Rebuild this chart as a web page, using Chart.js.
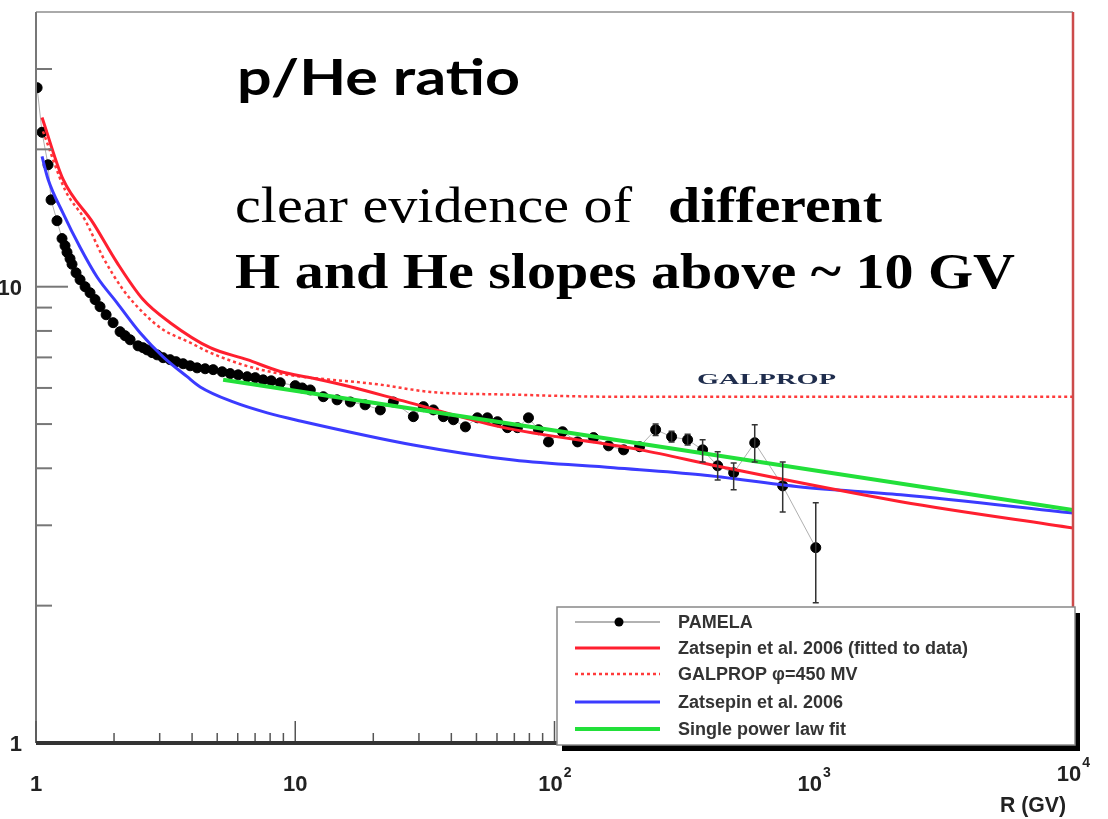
<!DOCTYPE html>
<html>
<head>
<meta charset="utf-8">
<script src="https://cdn.jsdelivr.net/npm/chart.js@4.4.1/dist/chart.umd.min.js"></script>
<style>
  body { margin: 0; background: #fff; }
  #wrap { width: 1108px; height: 819px; position: relative; }
</style>
</head>
<body>
<div id="wrap"><canvas id="myChart"></canvas></div>
<script>
// PAMELA p/He data (rigidity in GV, ratio)
var pamelaR = [1.01, 1.055, 1.113, 1.143, 1.205, 1.26, 1.294, 1.317, 1.353, 1.377, 1.427, 1.479, 1.546, 1.616, 1.69, 1.766, 1.864, 1.983,
  2.11, 2.206, 2.307, 2.476, 2.589, 2.683, 2.805, 2.933, 3.093, 3.292, 3.471, 3.694, 3.932, 4.183, 4.492, 4.824, 5.226, 5.61,
  6.026, 6.527, 7.009, 7.52, 8.079, 8.75, 10.0, 10.64, 11.43, 12.83, 14.5, 16.31, 18.6, 21.29, 23.89, 28.55, 31.21, 34.11, 37.27,
  40.74, 45.33, 50.42, 55.12, 60.26, 65.84, 71.96, 79.36, 86.76, 94.8, 107.4, 122.7, 141.5, 161.6, 184.7, 212.9, 245.5, 282.9, 326.2, 372.7,
  426, 491, 592, 759, 1018];
var pamelaRatio = [27.3, 21.8, 18.5, 15.5, 13.95, 12.75, 12.3, 11.9, 11.52, 11.2, 10.73, 10.36, 10.0, 9.70, 9.37, 9.04, 8.68, 8.34,
  7.97, 7.81, 7.65, 7.42, 7.35, 7.27, 7.17, 7.09, 6.99, 6.92, 6.85, 6.78, 6.71, 6.64, 6.61, 6.58, 6.51, 6.45,
  6.41, 6.35, 6.32, 6.25, 6.22, 6.16, 6.07, 6.0, 5.94, 5.74, 5.65, 5.59, 5.51, 5.37, 5.59, 5.19, 5.46, 5.37, 5.19,
  5.11, 4.93, 5.16, 5.16, 5.06, 4.91, 4.91, 5.16, 4.86, 4.57, 4.81, 4.57, 4.67, 4.48, 4.39, 4.46, 4.86, 4.69, 4.62, 4.39,
  4.05, 3.91, 4.55, 3.66, 2.68];
// error bars on the high rigidity points
var errR    = [245.5, 282.9, 326.2, 372.7, 426, 491, 592, 759, 1018];
var errHigh = [5.0, 4.82, 4.75, 4.62, 4.35, 4.11, 4.98, 4.13, 3.36];
var errLow  = [4.72, 4.57, 4.5, 4.13, 3.77, 3.59, 4.13, 3.21, 2.03];

// Zatsepin et al. 2006 (fitted to data)
var zfitR = [1.055, 1.271, 1.66, 2.054, 2.589, 3.292, 4.697, 6.527, 8.75, 11.73, 15.88, 26.1, 61.9, 214.8, 437.5, 2168, 10000];
var zfitRatio = [23.5, 17.2, 13.8, 11.29, 9.37, 8.34, 7.35, 6.92, 6.52, 6.3, 6.06, 5.62, 4.93, 4.39, 4.03, 3.38, 2.96];
// GALPROP phi=450 MV
var galR = [1.064, 1.294, 1.546, 1.814, 2.168, 2.589, 3.093, 3.932, 4.697, 6.527, 8.75, 21.29, 33.2, 69.4, 169, 10000];
var galRatio = [21.9, 16.3, 14.0, 11.6, 9.85, 8.77, 8.05, 7.54, 7.17, 6.7, 6.45, 6.10, 5.88, 5.80, 5.74, 5.74];
// Zatsepin et al. 2006
var z06R = [1.055, 1.113, 1.271, 1.479, 1.72, 2.054, 2.52, 3.093, 3.83, 4.30, 5.76, 7.80, 10.45, 28.55, 69.4, 169, 366, 891, 2168, 10000];
var z06Ratio = [19.3, 17.2, 14.5, 12.2, 10.5, 9.22, 7.93, 7.02, 6.35, 6.03, 5.59, 5.29, 5.08, 4.50, 4.17, 4.01, 3.87, 3.64, 3.50, 3.19];
// single power law fit
var pwlR = [5.27, 100, 10000];
var pwlRatio = [6.25, 4.84, 3.24];

// axis ticks
var xMajor = [1, 10, 100, 1000, 10000];
var xBase = ['1', '10', '10', '10', '10'];
var xExp = ['', '', '2', '3', '4'];
var minorMult = [2, 3, 4, 5, 6, 7, 8, 9];
var yMajor = [1, 10];
var yLabels = ['1', '10'];
var yMinor = [2, 3, 4, 5, 6, 7, 8, 9, 20, 30];

function pts(xs, ys) {
  return xs.map(function (x, i) { return { x: x, y: ys[i] }; });
}

function fitText(ctx, text, x, y, font, width, color) {
  ctx.font = font;
  var w = ctx.measureText(text).width;
  ctx.save();
  ctx.translate(x, y);
  ctx.scale(width / w, 1);
  ctx.fillStyle = color;
  ctx.textAlign = 'left';
  ctx.textBaseline = 'alphabetic';
  ctx.fillText(text, 0, 0);
  ctx.restore();
}

var decor = {
  id: 'decor',
  beforeDraw: function (chart) {
    var c = chart.ctx;
    c.save();
    c.fillStyle = '#fff';
    c.fillRect(0, 0, chart.width, chart.height);
    c.restore();
  },
  afterDatasetsDraw: function (chart) {
    var c = chart.ctx, xs = chart.scales.x, ys = chart.scales.y, a = chart.chartArea;
    c.save();
    // error bars
    c.strokeStyle = '#333';
    c.lineWidth = 1.5;
    errR.forEach(function (r, i) {
      var px = xs.getPixelForValue(r);
      var y1 = ys.getPixelForValue(errHigh[i]), y2 = ys.getPixelForValue(errLow[i]);
      c.beginPath();
      c.moveTo(px, y1); c.lineTo(px, y2);
      c.moveTo(px - 3, y1); c.lineTo(px + 3, y1);
      c.moveTo(px - 3, y2); c.lineTo(px + 3, y2);
      c.stroke();
    });

    // frame
    c.lineWidth = 2;
    c.strokeStyle = '#aaa';
    c.beginPath(); c.moveTo(a.left, a.top); c.lineTo(a.right, a.top); c.stroke();
    c.strokeStyle = '#777';
    c.beginPath(); c.moveTo(a.left, a.top); c.lineTo(a.left, a.bottom); c.stroke();
    c.strokeStyle = '#cc4b4b';
    c.lineWidth = 2.5;
    c.beginPath(); c.moveTo(a.right, a.top); c.lineTo(a.right, a.bottom); c.stroke();

    // x ticks (pointing up)
    c.strokeStyle = '#555';
    c.lineWidth = 1.5;
    xMajor.forEach(function (v, i) {
      var px = xs.getPixelForValue(v);
      c.beginPath(); c.moveTo(px, a.bottom); c.lineTo(px, a.bottom - 22); c.stroke();
      if (i < xMajor.length - 1) {
        minorMult.forEach(function (m) {
          var mx = xs.getPixelForValue(v * m);
          c.beginPath(); c.moveTo(mx, a.bottom); c.lineTo(mx, a.bottom - 10); c.stroke();
        });
      }
    });
    // y ticks (pointing right)
    c.strokeStyle = '#777';
    c.lineWidth = 2;
    yMajor.forEach(function (v) {
      var py = ys.getPixelForValue(v);
      c.beginPath(); c.moveTo(a.left, py); c.lineTo(a.left + 32, py); c.stroke();
    });
    yMinor.forEach(function (v) {
      var py = ys.getPixelForValue(v);
      c.beginPath(); c.moveTo(a.left, py); c.lineTo(a.left + 16, py); c.stroke();
    });
    // bottom axis
    c.strokeStyle = '#333';
    c.lineWidth = 4;
    c.beginPath(); c.moveTo(a.left, a.bottom); c.lineTo(a.right + 1, a.bottom); c.stroke();

    // tick labels
    c.fillStyle = '#222';
    c.textBaseline = 'alphabetic';
    xMajor.forEach(function (v, i) {
      var px = xs.getPixelForValue(v);
      var base = i === xMajor.length - 1 ? a.bottom + 38 : a.bottom + 48;
      c.font = 'bold 22px "Liberation Sans", Arial, sans-serif';
      var w = c.measureText(xBase[i]).width;
      c.textAlign = 'left';
      var x0 = xExp[i] ? px - w / 2 - 4 : px - w / 2;
      c.fillText(xBase[i], x0, base);
      if (xExp[i]) {
        c.font = 'bold 14px "Liberation Sans", Arial, sans-serif';
        c.fillText(xExp[i], x0 + w + 1, base - 14);
      }
    });
    c.font = 'bold 22px "Liberation Sans", Arial, sans-serif';
    c.textAlign = 'right';
    yMajor.forEach(function (v, i) {
      c.fillText(yLabels[i], 22, ys.getPixelForValue(v) + 8);
    });
    fitText(c, 'R (GV)', 1000, 812, 'bold 22px "Liberation Sans", Arial, sans-serif', 66, '#222');

    // GALPROP curve label
    fitText(c, 'GALPROP', 697, 384, 'bold 15px "Liberation Serif", serif', 139, '#1f2d4d');

    // legend box
    var lx = 557, ly = 607, lw = 518, lh = 138;
    c.fillStyle = '#000';
    c.fillRect(lx + 5, ly + 6, lw, lh);
    c.fillStyle = '#fff';
    c.fillRect(lx, ly, lw, lh);
    c.strokeStyle = '#888';
    c.lineWidth = 1.5;
    c.strokeRect(lx, ly, lw, lh);
    var rows = [622, 648, 674, 702, 729];
    legendOrder.forEach(function (di, k) {
      var ds = chart.data.datasets[di];
      var yy = rows[k];
      c.save();
      if (ds.pointRadius > 0) {
        c.strokeStyle = '#666';
        c.lineWidth = 1.2;
        c.beginPath(); c.moveTo(575, yy); c.lineTo(660, yy); c.stroke();
        c.fillStyle = '#000';
        c.beginPath(); c.arc(619, yy, 4.5, 0, Math.PI * 2); c.fill();
      } else {
        c.strokeStyle = ds.borderColor;
        c.lineWidth = ds.borderWidth;
        c.setLineDash(ds.borderDash || []);
        c.beginPath(); c.moveTo(575, yy); c.lineTo(660, yy); c.stroke();
      }
      c.restore();
      c.fillStyle = '#333';
      c.font = 'bold 18px "Liberation Sans", Arial, sans-serif';
      c.textAlign = 'left';
      c.fillText(ds.label, 678, yy + 6);
    });
    c.restore();
  },
  afterDraw: function (chart) {
    var c = chart.ctx;
    c.save();
    fitText(c, 'p/He ratio', 237, 95, 'bold 49px Lato, "Open Sans", sans-serif', 283, '#000');
    fitText(c, 'clear evidence of', 235, 222, '50px "Liberation Serif", serif', 397, '#000');
    fitText(c, 'different', 668, 222, 'bold 50px "Liberation Serif", serif', 214, '#000');
    fitText(c, 'H and He slopes above ~ 10 GV', 235, 288, 'bold 50px "Liberation Serif", serif', 780, '#000');
    c.restore();
  }
};

// datasets: 0 green, 1 red, 2 dotted, 3 blue, 4 PAMELA (index 0 is drawn on top)
var legendOrder = [4, 1, 2, 3, 0];

var ctx = document.getElementById('myChart').getContext('2d');
var myChart = new Chart(ctx, {
  type: 'scatter',
  data: {
    datasets: [{
      label: 'Single power law fit',
      data: pts(pwlR, pwlRatio),
      showLine: true,
      borderColor: '#22e03a',
      borderWidth: 4,
      pointRadius: 0
    }, {
      label: 'Zatsepin et al. 2006 (fitted to data)',
      data: pts(zfitR, zfitRatio),
      showLine: true,
      cubicInterpolationMode: 'monotone',
      borderColor: '#ff1f2f',
      borderWidth: 3,
      pointRadius: 0
    }, {
      label: 'GALPROP \u03c6=450 MV',
      data: pts(galR, galRatio),
      showLine: true,
      cubicInterpolationMode: 'monotone',
      borderColor: '#ff3a3a',
      borderWidth: 2.5,
      borderDash: [3, 3],
      pointRadius: 0
    }, {
      label: 'Zatsepin et al. 2006',
      data: pts(z06R, z06Ratio),
      showLine: true,
      cubicInterpolationMode: 'monotone',
      borderColor: '#3b3bff',
      borderWidth: 3,
      pointRadius: 0
    }, {
      label: 'PAMELA',
      data: pts(pamelaR, pamelaRatio),
      showLine: true,
      borderColor: '#b0b0b0',
      borderWidth: 1,
      backgroundColor: '#000',
      pointBorderColor: '#000',
      pointRadius: 5,
      pointHoverRadius: 5
    }]
  },
  options: {
    responsive: true,
    maintainAspectRatio: false,
    animation: false,
    layout: { padding: { left: 36, right: 35, top: 12, bottom: 76 } },
    scales: {
      x: { type: 'logarithmic', min: 1, max: 10000, display: false },
      y: { type: 'logarithmic', min: 1, max: 40, display: false }
    },
    plugins: {
      legend: { display: false },
      tooltip: { enabled: false }
    }
  },
  plugins: [decor]
});
</script>
</body>
</html>
